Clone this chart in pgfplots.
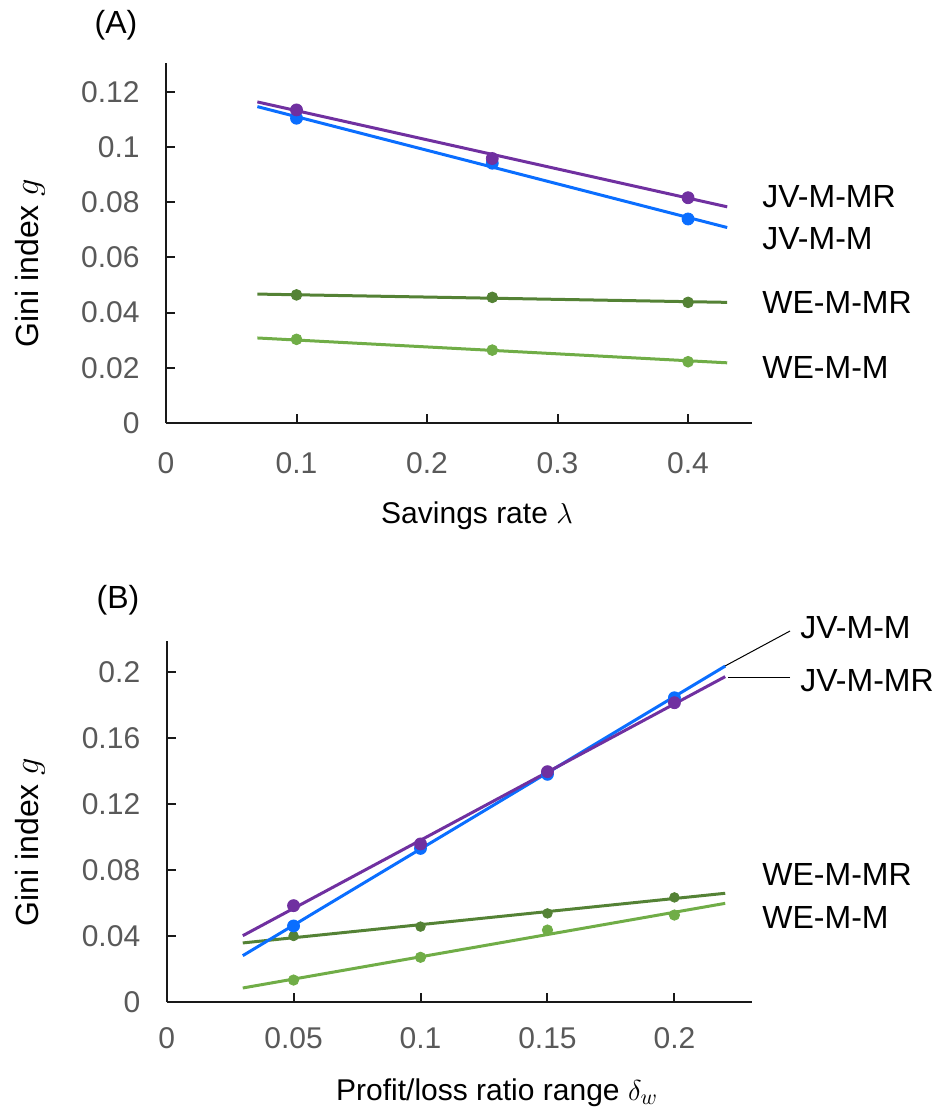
\documentclass[border=0pt]{standalone}
\usepackage{fontspec}
\setmainfont{Liberation Sans}
\usepackage{pgfplots}
\pgfplotsset{compat=1.18}
\usepackage{pgfplotstable}
\definecolor{cpur}{HTML}{7030A0}
\definecolor{cblue}{HTML}{0A6EFF}
\definecolor{cdg}{HTML}{548235}
\definecolor{clg}{HTML}{70AD47}
\definecolor{tgray}{HTML}{595959}

% Panel A: data points
\pgfplotstableread{
x    mr      m       wmr     wm
0.10 0.1134  0.1104  0.0464  0.0303
0.25 0.0958  0.0941  0.0455  0.0264
0.40 0.0816  0.0739  0.0437  0.0222
}\dataA
% Panel A: trend lines
\pgfplotstableread{
x    mr      m       wmr     wm
0.07 0.1163  0.1146  0.0467  0.0308
0.43 0.0783  0.0708  0.0437  0.0218
}\fitA
% Panel B: data points
\pgfplotstableread{
x    mr      m       wmr     wm
0.05 0.0584  0.0461  0.0400  0.0133
0.10 0.0958  0.0931  0.0457  0.0271
0.15 0.1396  0.1380  0.0537  0.0436
0.20 0.1814  0.1844  0.0634  0.0527
}\dataB
% Panel B: trend lines
\pgfplotstableread{
x    mr      m       wmr     wm
0.03 0.0402  0.0281  0.0358  0.0085
0.22 0.1972  0.2036  0.0659  0.0598
}\fitB

\pgfplotsset{
  myaxis/.style={
    scale only axis, anchor=south west,
    axis x line=bottom, axis y line=left,
    axis line style={-, line width=1pt, color=black!90},
    tick align=inside, major tick length=4.5pt,
    tick style={line width=1pt, color=black!90},
    ticklabel style={font=\fontsize{15}{17}\selectfont, text=tgray, inner sep=0pt},
    yticklabel style={anchor=east, xshift=-13pt},
    xticklabel style={anchor=north},
    clip=false,
  },
  fitline/.style={no marks, line width=1.5pt},
  dots/.style={only marks, mark=*, mark size=#1},
}
\newcommand{\lbl}{\fontsize{16}{19}\selectfont}
\newcommand{\xlbl}{\fontsize{15}{18}\selectfont}

\begin{document}
\begin{tikzpicture}
\useasboundingbox (0,0) rectangle (472.5pt,-556pt);

% ---------------- Panel A ----------------
\begin{axis}[myaxis, at={(83pt,-211.5pt)},
  width=293pt, height=180pt,
  xmin=0, xmax=0.449, ymin=0, ymax=0.1304,
  xtick={0,0.1,0.2,0.3,0.4}, xticklabels={0,0.1,0.2,0.3,0.4},
  ytick={0,0.02,0.04,0.06,0.08,0.1,0.12},
  yticklabels={0,0.02,0.04,0.06,0.08,0.1,0.12},
  xticklabel style={yshift=-14.5pt},
]
\addplot[fitline, clg] table[x=x, y=wm] {\fitA};
\addplot[dots=2.7pt, clg] table[x=x, y=wm] {\dataA};
\addplot[fitline, cdg] table[x=x, y=wmr] {\fitA};
\addplot[dots=2.7pt, cdg] table[x=x, y=wmr] {\dataA};
\addplot[fitline, cblue] table[x=x, y=m] {\fitA};
\addplot[dots=3pt, cblue] table[x=x, y=m] {\dataA};
\addplot[fitline, cpur] table[x=x, y=mr] {\fitA};
\addplot[dots=3pt, cpur] table[x=x, y=mr] {\dataA};
\end{axis}

\node[anchor=west, inner sep=0pt, font=\lbl] at (381pt,-98.5pt) {JV-M-MR};
\node[anchor=west, inner sep=0pt, font=\lbl] at (381pt,-119.5pt) {JV-M-M};
\node[anchor=west, inner sep=0pt, font=\lbl] at (381pt,-151pt) {WE-M-MR};
\node[anchor=west, inner sep=0pt, font=\lbl] at (381pt,-183.5pt) {WE-M-M};

\node[inner sep=0pt, font=\lbl] at (58pt,-12.5pt) {(A)};
\node[anchor=base, rotate=90, inner sep=0pt, font=\lbl] at (19pt,-131.5pt) {Gini index $g$};
\node[anchor=base, inner sep=0pt, font=\xlbl] at (238.5pt,-261.5pt) {Savings rate $\lambda$};

% ---------------- Panel B ----------------
\begin{axis}[myaxis, at={(83.3pt,-501pt)},
  width=292.5pt, height=180.5pt,
  xmin=0, xmax=0.2304, ymin=0, ymax=0.2188,
  xtick={0,0.05,0.1,0.15,0.2}, xticklabels={0,0.05,0.1,0.15,0.2},
  ytick={0,0.04,0.08,0.12,0.16,0.2},
  yticklabels={0,0.04,0.08,0.12,0.16,0.2},
  xticklabel style={yshift=-12.5pt},
]
\addplot[fitline, clg] table[x=x, y=wm] {\fitB};
\addplot[dots=2.6pt, clg] table[x=x, y=wm] {\dataB};
\addplot[fitline, cdg] table[x=x, y=wmr] {\fitB};
\addplot[dots=2.4pt, cdg] table[x=x, y=wmr] {\dataB};
\addplot[fitline, cblue] table[x=x, y=m] {\fitB};
\addplot[dots=3pt, cblue] table[x=x, y=m] {\dataB};
\addplot[fitline, cpur] table[x=x, y=mr] {\fitB};
\addplot[dots=3pt, cpur] table[x=x, y=mr] {\dataB};
\end{axis}

\draw[line width=0.5pt, black] (395pt,-315.5pt) -- (362.5pt,-333pt);
\draw[line width=0.5pt, black] (395pt,-338.5pt) -- (364pt,-338.5pt);
\node[anchor=west, inner sep=0pt, font=\lbl] at (400pt,-313.8pt) {JV-M-M};
\node[anchor=west, inner sep=0pt, font=\lbl] at (400pt,-340.5pt) {JV-M-MR};
\node[anchor=west, inner sep=0pt, font=\lbl] at (381pt,-437pt) {WE-M-MR};
\node[anchor=west, inner sep=0pt, font=\lbl] at (381pt,-458.5pt) {WE-M-M};

\node[inner sep=0pt, font=\lbl] at (59pt,-300pt) {(B)};
\node[anchor=base, rotate=90, inner sep=0pt, font=\lbl] at (19pt,-421pt) {Gini index $g$};
\node[anchor=base, inner sep=0pt, font=\xlbl] at (248.5pt,-550pt) {Profit/loss ratio range $\delta_w$};
\end{tikzpicture}
\end{document}
